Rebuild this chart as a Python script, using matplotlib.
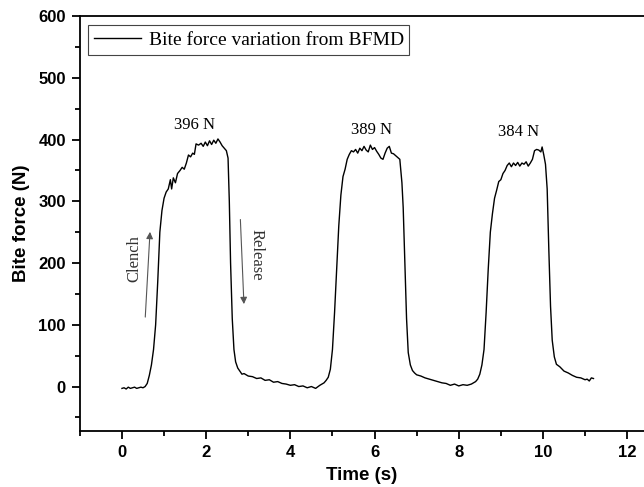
import matplotlib
matplotlib.use('Agg')
import matplotlib.pyplot as plt
from matplotlib.ticker import MultipleLocator

# time (s) and bite force (N)
t = [0.0, 0.05, 0.1, 0.15, 0.2, 0.25, 0.3, 0.35, 0.4, 0.45, 0.5, 0.55,
     0.6, 0.65, 0.7, 0.75, 0.8, 0.85, 0.9, 0.95, 1.0, 1.05, 1.1, 1.15, 1.18,
     1.22, 1.27, 1.32, 1.38, 1.43, 1.48, 1.53, 1.58, 1.63, 1.68, 1.72, 1.76,
     1.82, 1.88, 1.93, 1.98, 2.03, 2.08, 2.13, 2.18, 2.23, 2.28, 2.33, 2.38,
     2.43, 2.48, 2.52, 2.55, 2.58, 2.62, 2.66, 2.7, 2.75, 2.8, 2.85, 2.9,
     3.0, 3.1, 3.2, 3.3, 3.4, 3.5, 3.6, 3.7, 3.8, 3.9, 4.0, 4.1, 4.2, 4.3,
     4.4, 4.5, 4.6, 4.7, 4.8, 4.85, 4.9, 4.95, 5.0, 5.05, 5.1, 5.15, 5.2,
     5.25, 5.3, 5.35, 5.4, 5.45, 5.5, 5.55, 5.6, 5.65, 5.7, 5.75, 5.8, 5.85,
     5.9, 5.95, 6.0, 6.05, 6.1, 6.15, 6.2, 6.25, 6.3, 6.35, 6.4, 6.45, 6.5,
     6.55, 6.6, 6.65, 6.68, 6.72, 6.76, 6.8, 6.85, 6.9, 6.95, 7.0, 7.1, 7.2,
     7.3, 7.4, 7.5, 7.6, 7.7, 7.8, 7.9, 8.0, 8.1, 8.2, 8.3, 8.4, 8.45, 8.5,
     8.55, 8.6, 8.65, 8.7, 8.75, 8.8, 8.85, 8.9, 8.95, 9.0, 9.05, 9.1, 9.15,
     9.2, 9.25, 9.3, 9.35, 9.4, 9.45, 9.5, 9.55, 9.6, 9.65, 9.7, 9.75, 9.8,
     9.85, 9.9, 9.95, 9.98, 10.02, 10.06, 10.1, 10.14, 10.18, 10.22, 10.27,
     10.32, 10.4, 10.5, 10.6, 10.7, 10.8, 10.9, 11.0, 11.05, 11.1, 11.15, 11.2]
force = [-3, -2, -4, -1, -3, -2, -1, -3, -2, -1, -2, 0,
         5, 18, 35, 60, 100, 170, 250, 285, 305, 315, 320, 335, 320,
         338, 330, 345, 350, 355, 352, 362, 375, 372, 378, 376, 393,
         391, 394, 389, 396, 390, 398, 392, 399, 394, 401, 396, 390,
         386, 382, 370, 300, 200, 110, 60, 40, 30, 25, 20, 21,
         17, 16, 13, 14, 10, 11, 7, 8, 5, 4, 2, 3, 0, 1,
         -2, 0, -3, 2, 6, 10, 15, 28, 60, 120, 190, 260, 310,
         340, 352, 368, 376, 382, 380, 384, 378, 386, 382, 389, 383, 380,
         391, 384, 387, 381, 376, 370, 368, 378, 386, 389, 378, 377, 374,
         371, 368, 330, 290, 200, 110, 55, 35, 26, 22, 19, 17, 14,
         12, 10, 8, 6, 5, 2, 4, 1, 3, 2, 4, 8, 12, 20,
         35, 60, 120, 190, 250, 280, 305, 318, 332, 335, 345, 350, 358,
         362, 356, 362, 358, 363, 357, 362, 360, 364, 357, 362, 368, 382,
         384, 383, 380, 388, 375, 360, 320, 220, 130, 75, 48,
         36, 32, 25, 22, 18, 15, 14, 11, 12, 9, 14, 13]

peak_labels = ['396 N', '389 N', '384 N']
peak_t = [1.72, 5.93, 9.42]
peak_f = [423, 415, 413]

fig = plt.figure(figsize=(6.44, 4.87), dpi=100)
ax = fig.add_axes([0.124, 0.115, 0.876, 0.852])

ax.plot(t, force, color='black', lw=1.0, label='Bite force variation from BFMD')

for lab, x, y in zip(peak_labels, peak_t, peak_f):
    ax.text(x, y, lab, ha='center', va='center', fontsize=12,
            family='Liberation Serif')

# clench / release arrows
ax.annotate('', xy=(0.67, 255), xytext=(0.55, 108),
            arrowprops=dict(arrowstyle='-|>', color='#555555', lw=0.8,
                            mutation_scale=10))
ax.annotate('', xy=(2.9, 129), xytext=(2.81, 275),
            arrowprops=dict(arrowstyle='-|>', color='#555555', lw=0.8,
                            mutation_scale=10))
ax.text(0.29, 208, 'Clench', rotation=90, ha='center', va='center',
        fontsize=12, family='Liberation Serif', color='#333333')
ax.text(3.19, 213, 'Release', rotation=-90, ha='center', va='center',
        fontsize=12, family='Liberation Serif', color='#333333')

ax.set_xlim(-1, 12.4)
ax.set_ylim(-72, 600)
ax.xaxis.set_major_locator(MultipleLocator(2))
ax.xaxis.set_minor_locator(MultipleLocator(1))
ax.yaxis.set_major_locator(MultipleLocator(100))
ax.yaxis.set_minor_locator(MultipleLocator(50))
ax.tick_params(which='major', direction='out', length=6, width=1.3, pad=4)
ax.tick_params(which='minor', direction='out', length=3.5, width=1.3)
ax.tick_params(top=False, right=False, which='both')
for lab in ax.get_xticklabels() + ax.get_yticklabels():
    lab.set_fontweight('bold')
    lab.set_fontsize(12)
    lab.set_family('Liberation Sans')

ax.spines['right'].set_visible(False)
for s in ['left', 'bottom', 'top']:
    ax.spines[s].set_linewidth(1.3)

ax.set_xlabel('Time (s)', fontsize=13.5, fontweight='bold',
              family='Liberation Sans', labelpad=5)
ax.set_ylabel('Bite force (N)', fontsize=13.5, fontweight='bold',
              family='Liberation Sans', labelpad=6)

leg = ax.legend(loc='upper left', bbox_to_anchor=(0.008, 0.987),
                prop={'family': 'Liberation Serif', 'size': 14},
                fancybox=False, edgecolor='#444444', framealpha=1,
                handlelength=2.4, handletextpad=0.4, borderpad=0.3,
                borderaxespad=0.2)
leg.get_frame().set_linewidth(0.8)

fig.savefig('out.png', dpi=100)
